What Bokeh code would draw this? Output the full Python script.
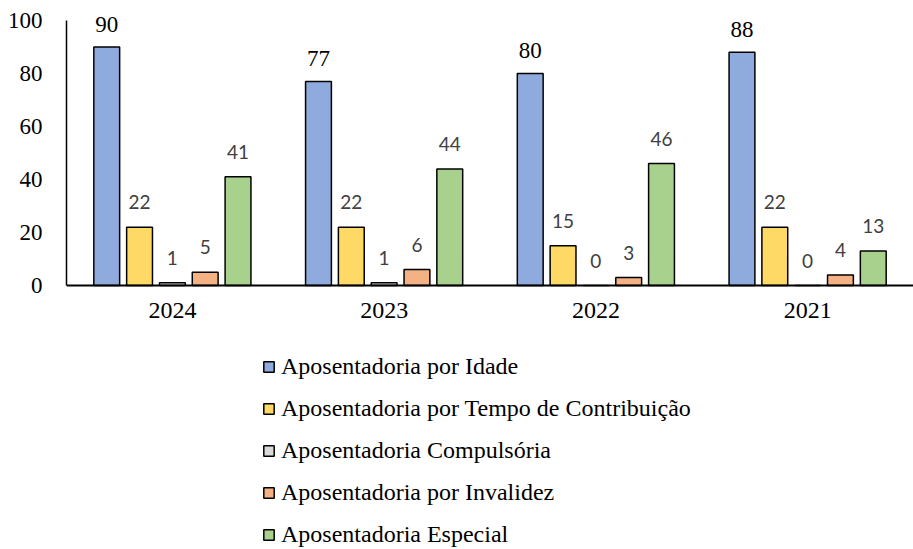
from bokeh.plotting import figure
from bokeh.models import ColumnDataSource, Legend, LegendItem, Span
from bokeh.transform import dodge
from bokeh.core.properties import value
from bokeh.embed import file_html
from bokeh.resources import INLINE

years = ["2024", "2023", "2022", "2021"]
idade = [90, 77, 80, 88]
tempo = [22, 22, 15, 22]
compulsoria = [1, 1, 0, 0]
invalidez = [5, 6, 3, 4]
especial = [41, 44, 46, 13]
y_ticks = [0, 20, 40, 60, 80, 100]

series_names = [
    "Aposentadoria por Idade",
    "Aposentadoria por Tempo de Contribuição",
    "Aposentadoria Compulsória",
    "Aposentadoria por Invalidez",
    "Aposentadoria Especial",
]
series_keys = ["idade", "tempo", "compulsoria", "invalidez", "especial"]
colors = ["#8faadc", "#ffd966", "#d9d9d9", "#f4b183", "#a9d18e"]
offsets = [-0.31, -0.155, 0.0, 0.155, 0.31]

data = dict(years=years, idade=idade, tempo=tempo, compulsoria=compulsoria,
            invalidez=invalidez, especial=especial, base=[0] * len(years))
for k in series_keys:
    data[k + "_lbl"] = [str(v) for v in data[k]]
src = ColumnDataSource(data)

SERIF = "Liberation Serif"

# frame spans 0..549 px; value 0 sits at 285 px, 100 at 20 px
px_per_unit = (285 - 20) / 100
y_min = -(549 - 285) / px_per_unit
y_max = 100 + 20 / px_per_unit
p = figure(x_range=years, y_range=(y_min, y_max), width=913, height=549,
           output_backend="svg", toolbar_location=None, x_axis_location=None,
           min_border_left=66, min_border_top=0, min_border_right=0,
           min_border_bottom=0)
p.xgrid.grid_line_color = None
p.ygrid.grid_line_color = None
p.outline_line_color = None
p.background_fill_color = "white"

items = []
for k, name, col, off in zip(series_keys, series_names, colors, offsets):
    r = p.vbar(x=dodge("years", off, range=p.x_range), top=k, width=0.122,
               source=src, fill_color=col, line_color="black", line_width=1.5)
    items.append(LegendItem(label=name, renderers=[r]))
    if k == "idade":
        p.text(x=dodge("years", off, range=p.x_range), y=k, text=k + "_lbl",
               source=src, text_font=value(SERIF), text_font_size="23px",
               text_color="black", text_align="center",
               text_baseline="alphabetic", y_offset=-23)
    else:
        p.text(x=dodge("years", off, range=p.x_range), y=k, text=k + "_lbl",
               source=src, text_font=value("Lato"), text_font_size="19px",
               text_color="#404040", text_align="center",
               text_baseline="alphabetic", y_offset=-25)

# category axis labels
p.text(x="years", y="base", text="years", source=src, text_font=value(SERIF),
       text_font_size="24px", text_color="black", text_align="center",
       text_baseline="top", y_offset=17)

# x axis baseline
p.add_layout(Span(location=0, dimension="width", line_color="black",
                  line_width=2))

p.yaxis.ticker = y_ticks
p.yaxis.bounds = (0, 100)
p.yaxis.major_tick_line_color = None
p.yaxis.minor_tick_line_color = None
p.yaxis.axis_line_color = "black"
p.yaxis.axis_line_width = 1.5
p.yaxis.major_label_text_font = SERIF
p.yaxis.major_label_text_font_size = "23px"
p.yaxis.major_label_text_color = "black"
p.yaxis.major_label_standoff = 18

legend = Legend(items=items, location=(196, 1), orientation="vertical",
                padding=0, margin=0, border_line_color=None,
                background_fill_alpha=0, glyph_width=13, glyph_height=13,
                label_height=28, label_standoff=6, spacing=14,
                label_text_font=SERIF, label_text_font_size="24px",
                label_text_color="black")
p.add_layout(legend, "center")

open("out.html", "w").write(file_html(p, INLINE))
